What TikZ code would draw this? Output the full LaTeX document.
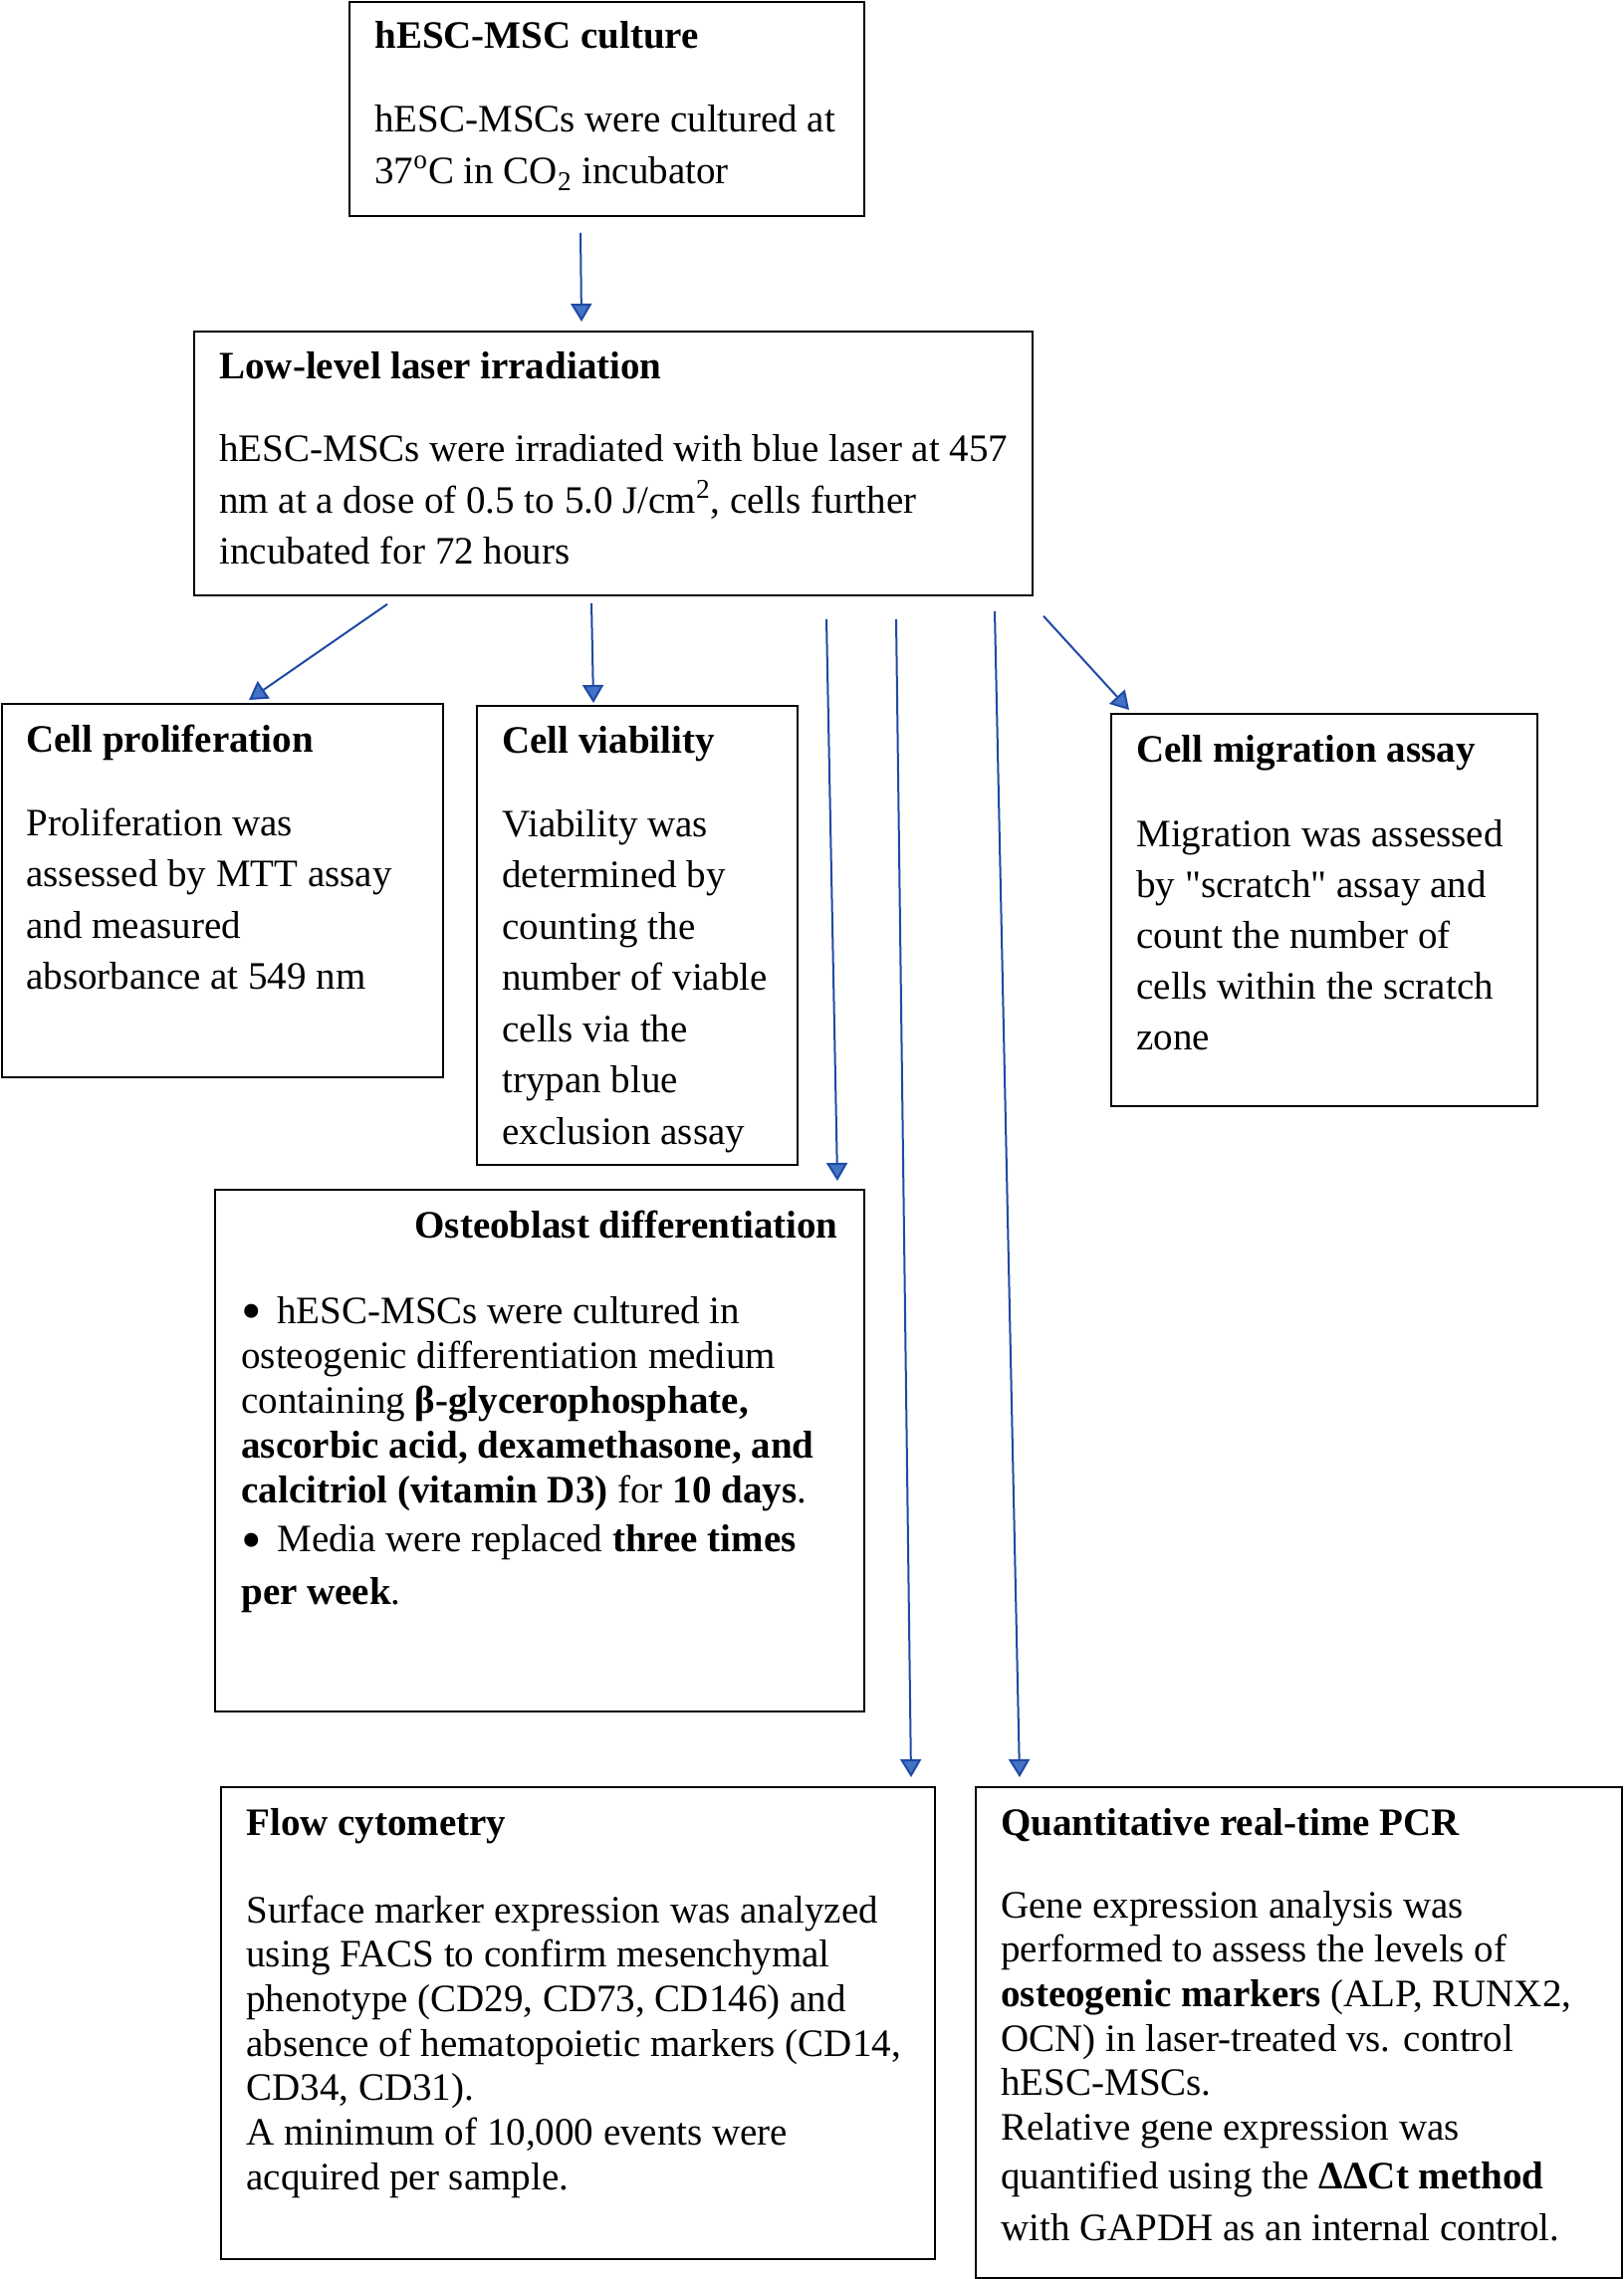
\documentclass[tikz,border=0pt]{standalone}
\usepackage{fontspec}
\usepackage{graphicx}
\setmainfont{Liberation Serif}
\usetikzlibrary{arrows.meta,calc}
\definecolor{arrline}{HTML}{1F4AA6}
\definecolor{arrfill}{HTML}{4472C4}
\newcommand\fsz[1]{\fontsize{19.5pt}{#1}\selectfont}
\newcommand\bodytext[2]{\parbox[t]{600pt}{\fsz{#1}\raggedright #2}}
\newcommand\bul{\makebox[18pt][l]{\raisebox{-3.8pt}{\scalebox{1.5}{•}}}}
\begin{document}
\begin{tikzpicture}[x=0.5pt,y=-0.5pt,
  box/.style={draw=black, line width=0.9pt, rectangle, anchor=north west, inner sep=0pt},
  ttl/.style={anchor=base west, inner sep=0pt, font=\fsz{25pt}\bfseries},
  txt/.style={anchor=base west, inner sep=0pt},
  arr/.style={draw=arrline, line width=1pt, -{Triangle[length=9pt,width=10.5pt,fill=arrfill]}}]
\useasboundingbox (0,0) rectangle (1630,2289);
\fill[white] (0,0) rectangle (1630,2289);

% boxes
\node[box, minimum width=258.5pt, minimum height=107.5pt] (cult) at (350,1) {};
\node[box, minimum width=421pt, minimum height=132.5pt] (laser) at (194,332) {};
\node[box, minimum width=221.5pt, minimum height=187.5pt] (prol) at (1,706) {};
\node[box, minimum width=161pt, minimum height=230.5pt] (viab) at (478,708) {};
\node[box, minimum width=214pt, minimum height=197pt] (migr) at (1115,716) {};
\node[box, minimum width=326pt, minimum height=262pt] (osteo) at (215,1194) {};
\node[box, minimum width=358.5pt, minimum height=237pt] (flow) at (221,1794) {};
\node[box, minimum width=324.5pt, minimum height=246.5pt] (pcr) at (979,1794) {};

% texts
\node[ttl] (cultT) at (376,49) {hESC-MSC culture};
\node[txt] (cultB) at (376,133) {\bodytext{26pt}{hESC-MSCs were cultured at\\
37\textsuperscript{o}C in CO\textsubscript{2} incubator}};

\node[ttl] (laserT) at (220,381) {Low-level laser irradiation};
\node[txt] (laserB) at (220,464) {\bodytext{25.6pt}{hESC-MSCs were irradiated with blue laser at 457\\
nm at a dose of 0.5 to 5.0 J/cm\textsuperscript{2}, cells further\\
incubated for 72 hours}};

\node[ttl] (prolT) at (26,755) {Cell proliferation};
\node[txt] (prolB) at (26,839) {\bodytext{25.75pt}{Proliferation was\\
assessed by MTT assay\\
and measured\\
absorbance at 549 nm}};

\node[ttl] (viabT) at (504,756) {Cell viability};
\node[txt] (viabB) at (504,840) {\bodytext{25.75pt}{Viability was\\
determined by\\
counting the\\
number of viable\\
cells via the\\
trypan blue\\
exclusion assay}};

\node[ttl] (migrT) at (1141,765) {Cell migration assay};
\node[txt] (migrB) at (1141,850) {\bodytext{25.6pt}{Migration was assessed\\
by \textquotedbl scratch\textquotedbl{} assay and\\
count the number of\\
cells within the scratch\\
zone}};

\node[ttl, anchor=base east] (osteoT) at (842,1243) {Osteoblast differentiation};
\node[txt] (osteoB) at (242,1329) {\bodytext{22.5pt}{\bul hESC-MSCs were cultured in\\
osteogenic differentiation medium\\
containing \textbf{β-glycerophosphate,}\\
\textbf{ascorbic acid, dexamethasone, and}\\
\textbf{calcitriol (vitamin D3)} for \textbf{10 days}.\\[2.3pt]
\bul Media were replaced \textbf{three times}\\[4pt]
\textbf{per week}.}};

\node[ttl] (flowT) at (247,1843) {Flow cytometry};
\node[txt] (flowB) at (247,1931) {\bodytext{22.35pt}{Surface marker expression was analyzed\\
using FACS to confirm mesenchymal\\
phenotype (CD29, CD73, CD146) and\\
absence of hematopoietic markers (CD14,\\
CD34, CD31).\\
A minimum of 10,000 events were\\
acquired per sample.}};

\node[ttl] (pcrT) at (1005,1843) {Quantitative real-time PCR};
\node[txt] (pcrB) at (1005,1926) {\bodytext{22.35pt}{Gene expression analysis was\\
performed to assess the levels of\\
\textbf{osteogenic markers} (ALP, RUNX2,\\
OCN) in laser-treated vs. control\\
hESC-MSCs.\\
Relative gene expression was\\[2.2pt]
quantified using the \textbf{ΔΔCt method}\\[3.6pt]
with GAPDH as an internal control.}};

% connector start points
\coordinate (s1) at ($(cult.south west)+(233,16)$);
\coordinate (s2) at ($(laser.south west)+(195,8)$);
\coordinate (s3) at ($(laser.south west)+(400,7)$);
\coordinate (s4) at ($(laser.south west)+(636,23)$);
\coordinate (s5) at ($(laser.south west)+(706,23)$);
\coordinate (s6) at ($(laser.south west)+(805,15)$);
\coordinate (s7) at ($(laser.south west)+(854,20)$);

% connectors
\draw[arr] (s1) -- ($(laser.north west)+(390,-9)$);
\draw[arr] (s2) -- ($(prol.north west)+(249,-3)$);
\draw[arr] (s3) -- ($(viab.north west)+(118,-2)$);
\draw[arr] (s4) -- ($(osteo.north west)+(626,-8)$);
\draw[arr] (s5) -- ($(flow.north west)+(694,-9)$);
\draw[arr] (s6) -- ($(pcr.north west)+(45,-9)$);
\draw[arr] (s7) -- ($(migr.north west)+(19,-3)$);
\end{tikzpicture}
\end{document}
